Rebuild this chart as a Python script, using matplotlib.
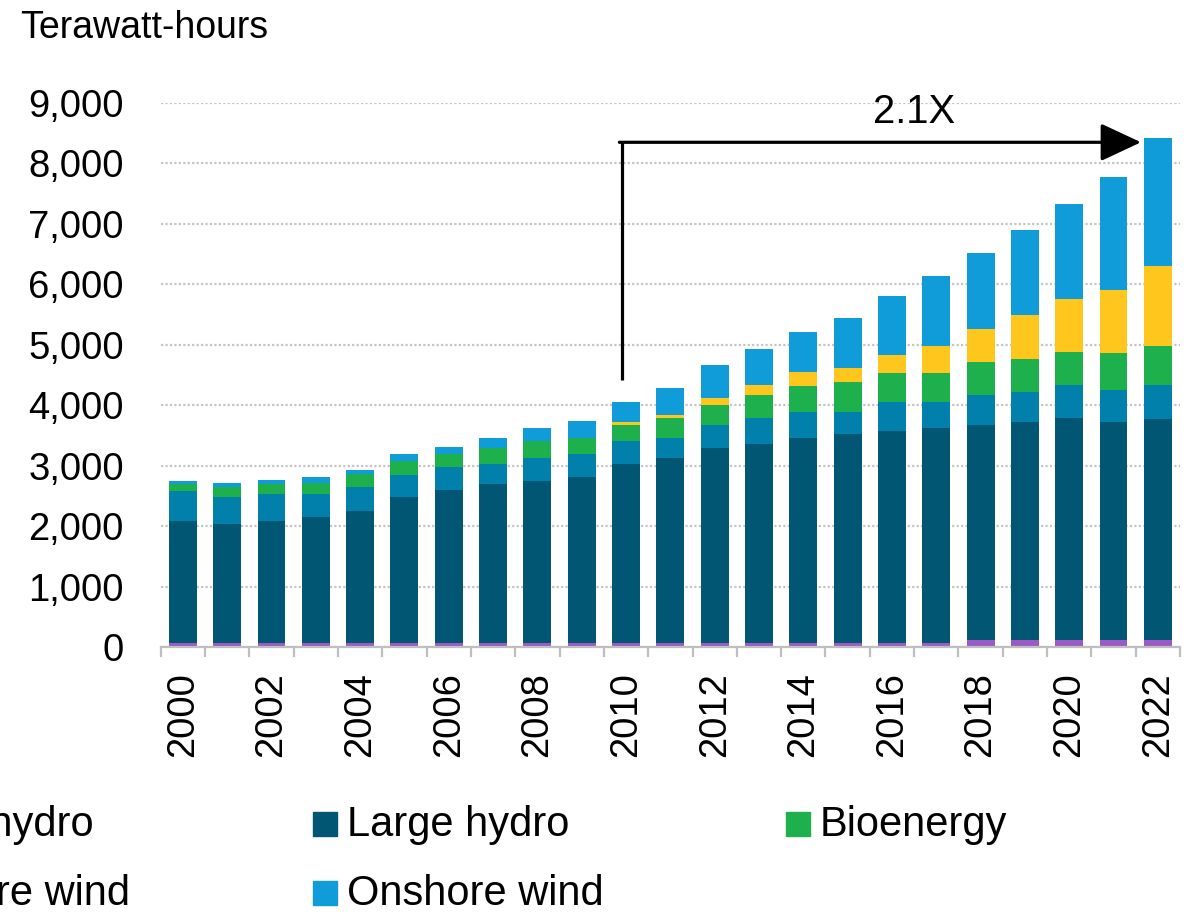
import numpy as np
import matplotlib
matplotlib.use("Agg")
import matplotlib.pyplot as plt
from matplotlib.patches import Rectangle
from matplotlib.ticker import FuncFormatter, MultipleLocator

plt.rcParams["font.family"] = ["Liberation Sans", "DejaVu Sans"]

# Data (TWh)
years = list(range(2000, 2023))
geothermal = [65] * 18 + [110] * 5
large_hydro = [2025, 1970, 2025, 2090, 2190, 2410, 2530, 2630, 2685, 2740, 2960, 3070,
               3235, 3290, 3390, 3455, 3510, 3565, 3565, 3615, 3680, 3605, 3660]
small_hydro = [495, 440, 440, 375, 385, 370, 375, 330, 375, 385, 385, 320,
               380, 430, 435, 370, 480, 425, 495, 500, 545, 540, 565]
bioenergy = [105, 165, 160, 175, 220, 235, 220, 275, 285, 265, 265, 330,
             325, 380, 430, 495, 485, 485, 545, 545, 545, 615, 645]
solar_pv = [0, 0, 0, 0, 0, 0, 0, 0, 5, 10, 45, 60,
            115, 170, 235, 225, 285, 440, 550, 715, 880, 1040, 1320]
onshore_wind = [60, 65, 70, 100, 65, 105, 120, 165, 215, 275, 340, 440,
                540, 600, 655, 825, 980, 1155, 1255, 1410, 1570, 1865, 2125]

series = [
    ("Geothermal", geothermal, "#9b5ac4"),
    ("Large hydro", large_hydro, "#005673"),
    ("Small hydro", small_hydro, "#0080aa"),
    ("Bioenergy", bioenergy, "#1eb04c"),
    ("Solar PV", solar_pv, "#ffc61e"),
    ("Onshore wind", onshore_wind, "#109cd8"),
]
colors = {name: c for name, _, c in series}
colors["Offshore wind"] = "#1f3f7a"

legend_labels = ["Small hydro", "Offshore wind", "Large hydro", "Onshore wind", "Bioenergy"]

W, H = 1198, 917
fig = plt.figure(figsize=(W / 100, H / 100), dpi=100)
ax = fig.add_axes([160.7 / W, 1 - 647 / H, (1180 - 160.7) / W, (647 - 103) / H])

x = np.arange(len(years))
bottom = np.zeros(len(years))
for name, vals, col in series:
    vals = np.array(vals, dtype=float)
    ax.bar(x, vals, width=0.63, bottom=bottom, color=col, zorder=3, linewidth=0)
    bottom += vals

ax.set_xlim(-0.5, len(years) - 0.5)
ax.set_ylim(0, 9000)

# grid
ax.yaxis.set_major_locator(MultipleLocator(1000))
ax.yaxis.set_major_formatter(FuncFormatter(lambda v, p: f"{int(v):,}"))
ax.grid(axis="y", color="#c4c4c4", linestyle=(0, (1, 1)), linewidth=1.6, zorder=0)
for s in ["left", "right", "top"]:
    ax.spines[s].set_visible(False)
ax.spines["bottom"].set_color("#bfbfbf")
ax.spines["bottom"].set_linewidth(1.6)
ax.spines["bottom"].set_zorder(4)

ax.tick_params(axis="y", length=0, pad=26.5, labelsize=27.5)
ax.set_xticks(x[::2])
ax.set_xticklabels([str(y) for y in years[::2]], rotation=90)
ax.set_xticks(np.arange(-0.5, len(years)), minor=True)
ax.tick_params(axis="x", which="major", length=0, pad=18, labelsize=27.5)
ax.tick_params(axis="x", which="minor", length=7, width=1.6, color="#bfbfbf")

# growth arrow 2010 -> 2022
ax.plot([9.9, 9.9], [4420, 8350], color="black", lw=2.3, zorder=5, clip_on=False,
        solid_capstyle="butt")
ax.annotate("", xy=(21.62, 8350), xytext=(9.85, 8350),
            arrowprops=dict(arrowstyle="-|>,head_length=0.6,head_width=0.28",
                            mutation_scale=42, color="black", lw=2.3,
                            shrinkA=0, shrinkB=0),
            annotation_clip=False, zorder=5)
ax.text(16.5, 8675, "2.1X", ha="center", va="baseline", fontsize=28.8)

fig.text(20 / W, 1 - 38 / H, "Terawatt-hours", ha="left", va="baseline", fontsize=27)

# legend (left column is cut off by the image edge)
col_left = [-160, 313, 786]
row_base = [836, 905]
for i, lab in enumerate(legend_labels):
    c, r = divmod(i, 2)
    px, py = col_left[c], row_base[r]
    fig.patches.append(Rectangle((px / W, 1 - py / H), 24 / W, 24 / H,
                                 transform=fig.transFigure, color=colors[lab]))
    fig.text((px + 33.7) / W, 1 - py / H, lab, ha="left", va="baseline", fontsize=30)

fig.savefig("out.png", dpi=100)
